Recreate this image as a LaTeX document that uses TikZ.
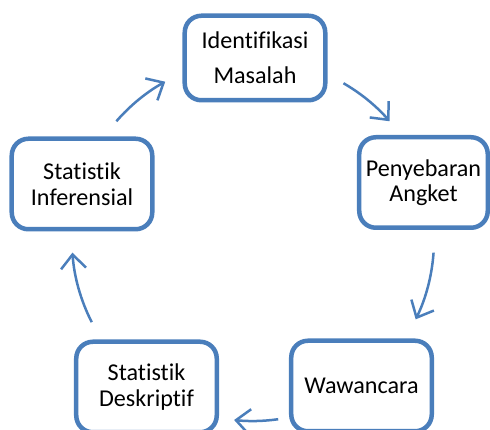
\documentclass[tikz,border=0pt]{standalone}
\usepackage{fontspec}
\setmainfont{Carlito}[Ligatures={NoCommon}]
\usetikzlibrary{calc, arrows.meta}
\definecolor{cycleBlue}{RGB}{74,126,187}

\begin{document}
\begin{tikzpicture}[x=0.03cm, y=-0.03cm, >={Straight Barb[length=0.42cm, width=0.75cm]},
    stepbox/.style={draw=cycleBlue, line width=0.135cm, rounded corners=0.5cm, fill=white,
        align=center, inner sep=0pt, minimum width=4.215cm, minimum height=2.715cm,
        font=\fontsize{20.6}{22.5}\selectfont},
    flow/.style={->, cycleBlue, line width=0.075cm}]
    \useasboundingbox (0,0) rectangle (490,430);
    \clip (0,0) rectangle (490,430);

    \coordinate (C) at (253,240);

    % the five steps
    \node[stepbox, minimum height=2.535cm, font=\fontsize{20.6}{29.8}\selectfont] (ident) at (255,58) {Identifikasi\\Masalah};
    \node[stepbox, minimum width=3.855cm, font=\fontsize{20.6}{21.3}\selectfont] (angket) at (423.5,182.5) {Penyebaran\\Angket};
    \node[stepbox] (wawan) at (361.5,386) {Wawancara};
    \node[stepbox] (deskr) at (146.5,387) {Statistik\\Deskriptif};
    \node[stepbox] (infer) at (82,184) {Statistik\\Inferensial};

    % arrows round the cycle
    \coordinate (s1) at ($(C)+(221:181)$);
    \coordinate (s2) at ($(C)+(300:181)$);
    \coordinate (s3) at ($(C)+(4:181)$);
    \coordinate (s4) at ($(C)+(82:181)$);
    \coordinate (s5) at ($(C)+(153:181)$);

    \draw[flow] (s1) arc[start angle=221, end angle=241, radius=181];
    \draw[flow] (s2) arc[start angle=300, end angle=319, radius=181];
    \draw[flow] (s3) arc[start angle=4, end angle=26, radius=181];
    \draw[flow] (s4) arc[start angle=82, end angle=96, radius=181];
    \draw[flow] (s5) arc[start angle=153, end angle=176, radius=181];
\end{tikzpicture}
\end{document}
